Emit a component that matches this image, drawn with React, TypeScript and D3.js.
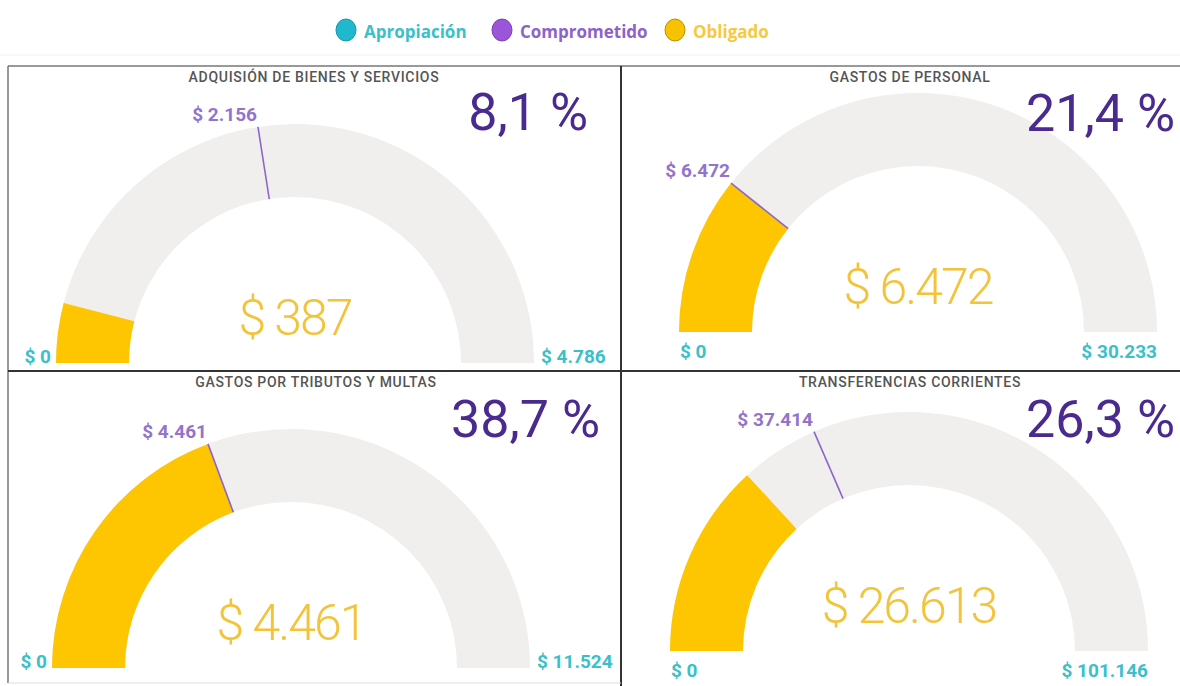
import React from "react";
import * as d3 from "d3";

// ---- data ----
const categories = [
  "ADQUISIÓN DE BIENES Y SERVICIOS",
  "GASTOS DE PERSONAL",
  "GASTOS POR TRIBUTOS Y MULTAS",
  "TRANSFERENCIAS CORRIENTES",
];
const apropiacion = [4786, 30233, 11524, 101146];
const comprometido = [2156, 6472, 4461, 37414];
const obligado = [387, 6472, 4461, 26613];
const legendLabels = ["Apropiación", "Comprometido", "Obligado"];

// ---- layout (positions, not data) ----
const layout = [
  { cx: 295, cy: 363, mode: "side", pctX: 588, pctY: 130, titleX: 314, titleY: 82 },
  { cx: 918, cy: 332, mode: "below", pctX: 1175, pctY: 131, titleX: 910, titleY: 82 },
  { cx: 291, cy: 668, mode: "side", pctX: 600, pctY: 437, titleX: 316, titleY: 387 },
  { cx: 909, cy: 651, mode: "below", pctX: 1175, pctY: 437, titleX: 910, titleY: 387 },
];

const W = 1180;
const H = 686;
const R_OUT = 239;
const R_IN = 166;

const COL_APROP = "#3BBFC9";
const COL_COMP = "#8E66C9";
const COL_COMP_TXT = "#9274CC";
const COL_OBL = "#FDC600";
const COL_TRACK = "#F0EFEE";
const COL_PCT = "#4B2A8F";
const COL_CENTER = "#F3C33A";

const locale = d3.formatLocale({
  decimal: ",",
  thousands: ".",
  grouping: [3],
  currency: ["$ ", ""],
});
const fmtMoney = locale.format("$,.0f");
const fmtPct = locale.format(",.1f");

function Gauge({ i }: { i: number }) {
  const L = layout[i];
  const max = apropiacion[i];
  const angle = d3.scaleLinear().domain([0, max]).range([-Math.PI / 2, Math.PI / 2]);
  const arc = d3.arc<any>().innerRadius(R_IN).outerRadius(R_OUT);
  const track = arc({ startAngle: angle(0), endAngle: angle(max) } as any) || "";
  const val = arc({ startAngle: angle(0), endAngle: angle(obligado[i]) } as any) || "";
  const ta = angle(comprometido[i]);
  const px = (r: number) => L.cx + r * Math.sin(ta);
  const py = (r: number) => L.cy - r * Math.cos(ta);
  const pct = (obligado[i] / apropiacion[i]) * 100;

  const side = L.mode === "side";
  const minX = side ? L.cx - R_OUT - 5 : L.cx - R_OUT + 1;
  const maxX = side ? L.cx + R_OUT + 7 : L.cx + R_OUT;
  const lblY = side ? L.cy : L.cy + 26;

  return (
    <g>
      <text
        x={L.titleX}
        y={L.titleY}
        textAnchor="middle"
        fontFamily="Roboto, sans-serif"
        fontWeight={500}
        fontSize={14}
        letterSpacing={0.7}
        fill="#555"
      >
        {categories[i]}
      </text>
      <g transform={`translate(${L.cx},${L.cy})`}>
        <path d={track} fill={COL_TRACK} />
        <path d={val} fill={COL_OBL} />
      </g>
      <line x1={px(R_IN)} y1={py(R_IN)} x2={px(R_OUT)} y2={py(R_OUT)} stroke={COL_COMP} strokeWidth={1.6} />
      <text
        x={px(R_OUT) - 1}
        y={py(R_OUT) - 6}
        textAnchor="end"
        fontFamily="Roboto, sans-serif"
        fontWeight={700}
        fontSize={19}
        fill={COL_COMP_TXT}
      >
        {fmtMoney(comprometido[i])}
      </text>
      <text
        x={L.cx}
        y={L.cy - 28}
        textAnchor="middle"
        fontFamily="Roboto, sans-serif"
        fontWeight={300}
        fontSize={50}
        letterSpacing={-2}
        fill={COL_CENTER}
      >
        {fmtMoney(obligado[i])}
      </text>
      <text
        x={L.pctX}
        y={L.pctY}
        textAnchor="end"
        fontFamily="Roboto, sans-serif"
        fontSize={52}
        fill={COL_PCT}
      >
        {fmtPct(pct) + " %"}
      </text>
      <text
        x={minX}
        y={lblY}
        textAnchor={side ? "end" : "start"}
        fontFamily="Roboto, sans-serif"
        fontWeight={700}
        fontSize={19}
        fill={COL_APROP}
      >
        {fmtMoney(0)}
      </text>
      <text
        x={maxX}
        y={lblY}
        textAnchor={side ? "start" : "end"}
        fontFamily="Roboto, sans-serif"
        fontWeight={700}
        fontSize={19}
        fill={COL_APROP}
      >
        {fmtMoney(max)}
      </text>
    </g>
  );
}

function Legend() {
  const colors = ["#20B8CE", "#9A55D8", "#F7C300"];
  const strokes = ["#1597A8", "#7A3FB5", "#B89100"];
  const textColors = [COL_APROP, "#8E62C8", "#F6C940"];
  const xs = [346, 502, 675];
  return (
    <g>
      {legendLabels.map((l, k) => (
        <g key={l}>
          <ellipse cx={xs[k]} cy={30} rx={10} ry={11} fill={colors[k]} stroke={strokes[k]} strokeWidth={1} />
          <text
            x={xs[k] + 18}
            y={38}
            fontFamily="'Open Sans', sans-serif"
            fontWeight={700}
            fontSize={17}
            fill={textColors[k]}
          >
            {l}
          </text>
        </g>
      ))}
    </g>
  );
}

export default function App() {
  return (
    <svg
      width={W}
      height={H}
      style={{ position: "absolute", left: 0, top: 0, background: "#fff" }}
    >
      <rect x={0} y={0} width={W} height={H} fill="#fff" />
      <Legend />
      <line x1={0} y1={55} x2={W} y2={55} stroke="#f2f2f2" strokeWidth={1} />
      {[0, 1, 2, 3].map((i) => (
        <Gauge key={i} i={i} />
      ))}
      {/* panel borders */}
      <line x1={8} y1={66} x2={W} y2={66} stroke="#777" strokeWidth={1.5} />
      <line x1={8} y1={66} x2={8} y2={683} stroke="#777" strokeWidth={1.5} />
      <line x1={621} y1={66} x2={621} y2={686} stroke="#333" strokeWidth={2} />
      <line x1={8} y1={371} x2={W} y2={371} stroke="#333" strokeWidth={2} />
      <line x1={8} y1={683} x2={621} y2={683} stroke="#ddd" strokeWidth={1} />
    </svg>
  );
}
